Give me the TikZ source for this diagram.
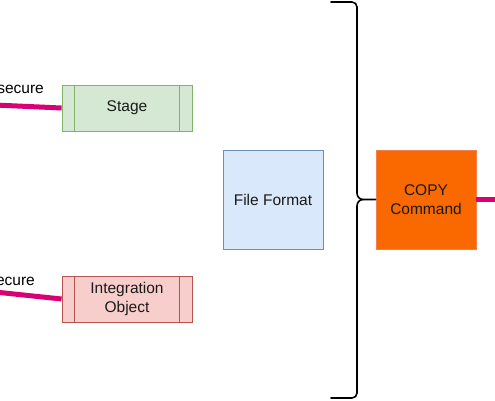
\documentclass[tikz,border=0pt]{standalone}
\usepackage{fontspec}
\setmainfont{Liberation Sans}
\definecolor{pgreen}{HTML}{D5E8D4}\definecolor{sgreen}{HTML}{82B366}
\definecolor{pred}{HTML}{F8CECC}\definecolor{sred}{HTML}{B85450}
\definecolor{pblue}{HTML}{DAE8FC}\definecolor{sblue}{HTML}{6C8EBF}
\definecolor{porange}{HTML}{FA6800}\definecolor{sorange}{HTML}{F08050}
\definecolor{magenta2}{HTML}{D80073}
\definecolor{txt}{HTML}{1A1A1A}
\begin{document}
\begin{tikzpicture}[x=1pt,y=-1pt,
  box/.style={draw, line width=0.8pt, minimum width=130pt, minimum height=46pt, align=center, inner sep=0pt, font=\fontsize{15.5}{19}\selectfont, text=txt},
  sq/.style={draw, line width=0.8pt, minimum width=100pt, minimum height=99pt, align=center, inner sep=0pt, font=\fontsize{15.5}{19}\selectfont, text=txt},
  pink/.style={draw=magenta2, line width=5pt},
  lbl/.style={font=\fontsize{15.5}{19}\selectfont, inner sep=0pt}]
\useasboundingbox (0,0) rectangle (495,400);
\node[box, fill=pgreen, draw=sgreen] (stage) at (127,108) {Stage};
\draw[sgreen, line width=0.8pt] ([xshift=13pt]stage.north west) -- ([xshift=13pt]stage.south west)
  ([xshift=-13pt]stage.north east) -- ([xshift=-13pt]stage.south east);
\node[box, fill=pred, draw=sred] (integ) at (127,299) {Integration\\Object};
\draw[sred, line width=0.8pt] ([xshift=13pt]integ.north west) -- ([xshift=13pt]integ.south west)
  ([xshift=-13pt]integ.north east) -- ([xshift=-13pt]integ.south east);
\node[sq, fill=pblue, draw=sblue] (ff) at (273,199.5) {File Format};
\node[sq, fill=porange, draw=sorange] (copy) at (426,199.5) {COPY\\Command};
\node[lbl, anchor=east] (s1) at (44,89) {secure};
\node[lbl, anchor=east] (s2) at (35,281) {ecure};
\coordinate (l1) at (-5,105);
\coordinate (l2) at (-5,292);
\coordinate (r1) at (500,199.5);
\draw[pink] (l1) -- (stage.west);
\draw[pink] (l2) -- (integ.west);
\draw[pink] (copy.east) -- (r1);
\coordinate (tip) at (copy.west);
\draw[line width=1.6pt, line cap=round] (331,2) -- (352,2) to[out=0,in=90] (357,7) -- (357,193)
  to[out=90+180,in=180] (363,199.5) -- (tip);
\draw[line width=1.6pt, line cap=round] (363,199.5) to[out=180,in=90] (357,206) -- (357,393)
  to[out=-90,in=0] (352,398) -- (331,398);
\end{tikzpicture}
\end{document}
